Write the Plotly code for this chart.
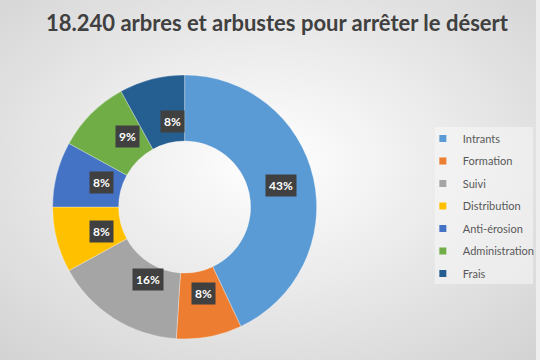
import numpy as np
import plotly.graph_objects as go
import base64

categories = ["Intrants", "Formation", "Suivi", "Distribution", "Anti-érosion", "Administration", "Frais"]
values = [43, 8, 16, 8, 8, 9, 8]
colors = ["#5B9BD5", "#ED7D31", "#A5A5A5", "#FFC000", "#4472C4", "#70AD47", "#255E91"]
title = "18.240 arbres et arbustes pour arrêter le désert"

W, H = 540, 360
cx, cy, r_out, hole = 186, 207, 133, 0.5
FONT = "Lato, Open Sans, sans-serif"

dom_x = [(cx - r_out) / W, (cx + r_out) / W]
dom_y = [1 - (cy + r_out) / H, 1 - (cy - r_out) / H]

fig = go.Figure()
fig.add_trace(go.Pie(
    labels=categories, values=values, sort=False, direction="clockwise", rotation=0,
    hole=hole, marker=dict(colors=colors, line=dict(color="rgba(255,255,255,0.5)", width=0.6)),
    textinfo="none", hoverinfo="label+percent", domain=dict(x=dom_x, y=dom_y),
    showlegend=False,
))

# legend entries (one group per category for spacing)
for name, col in zip(categories, colors):
    fig.add_trace(go.Scatter(
        x=[None], y=[None], mode="markers", name=name, legendgroup=name,
        marker=dict(symbol="square", size=7, color=col), showlegend=True,
    ))

# label boxes at middle of ring, derived from values
vals = np.array(values, dtype=float)
fr = vals / vals.sum()
mid = (np.cumsum(fr) - fr / 2) * 2 * np.pi
r_mid = r_out * (1 + hole) / 2
for f, a in zip(fr, mid):
    px = cx + r_mid * np.sin(a)
    py = cy - r_mid * np.cos(a)
    fig.add_annotation(
        x=px / W, y=1 - py / H, xref="paper", yref="paper",
        text=f"<b>{round(f*100)}%</b>", showarrow=False,
        font=dict(family=FONT, size=12, color="white"),
        bgcolor="#404040", borderpad=3,
    )

svg = f'''<svg xmlns="http://www.w3.org/2000/svg" width="{W}" height="{H}">
<defs><radialGradient id="g" cx="50%" cy="45%" r="75%">
<stop offset="0%" stop-color="#ffffff"/><stop offset="100%" stop-color="#d2d2d2"/>
</radialGradient></defs><rect width="{W}" height="{H}" fill="url(#g)"/></svg>'''
uri = "data:image/svg+xml;base64," + base64.b64encode(svg.encode()).decode()

fig.update_layout(
    width=W, height=H, margin=dict(l=0, r=0, t=0, b=0),
    paper_bgcolor="#eeeeee", plot_bgcolor="rgba(0,0,0,0)",
    xaxis=dict(visible=False), yaxis=dict(visible=False),
    images=[dict(source=uri, xref="paper", yref="paper", x=0, y=1, sizex=1, sizey=1,
                 xanchor="left", yanchor="top", sizing="stretch", layer="below")],
    shapes=[dict(type="rect", xref="paper", yref="paper",
                 x0=438 / W, x1=537 / W, y0=1 - 284 / H, y1=1 - 127 / H,
                 fillcolor="rgba(248,248,248,0.55)", line=dict(width=0), layer="below")],
    title=dict(text=f"<b>{title}</b>", x=277 / W, xanchor="center", y=1 - 23 / H, yanchor="middle",
               font=dict(family=FONT, size=22, color="#404040")),
    legend=dict(x=426 / W, y=1 - 124 / H, xanchor="left", yanchor="top",
                bgcolor="rgba(0,0,0,0)", borderwidth=0,
                font=dict(family=FONT, size=11, color="#595959"),
                itemwidth=30, tracegroupgap=3.5, traceorder="grouped"),
    showlegend=True,
)

fig.write_html("out.html", config={"displayModeBar": False},
               post_script="document.body.style.margin='0';")
